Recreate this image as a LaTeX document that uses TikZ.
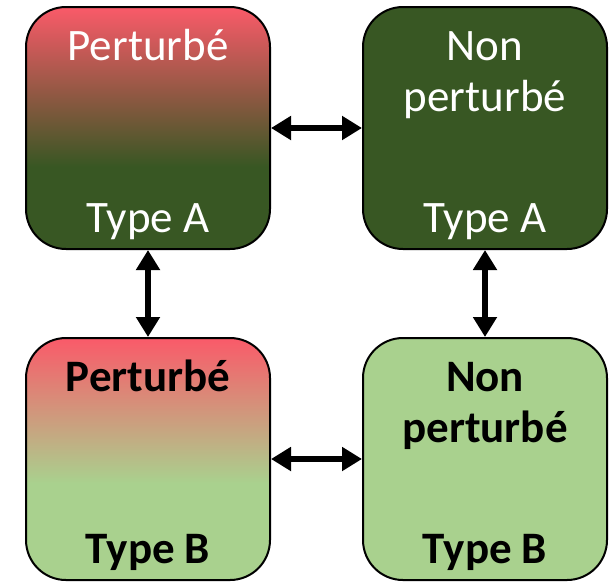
\documentclass[tikz,border=0pt]{standalone}
\usepackage{fontspec}
\setmainfont{Carlito}
\usetikzlibrary{arrows.meta,calc}
\definecolor{pred}{HTML}{FA5A69}
\definecolor{dgreen}{HTML}{385723}
\definecolor{lgreen}{HTML}{A9D18E}
% vertical fades: the node spans 25bp (bottom) to 75bp (top)
\pgfdeclareverticalshading{fadeA}{100bp}{color(0bp)=(dgreen); color(25bp)=(dgreen);
  color(42bp)=(dgreen); color(75bp)=(pred); color(100bp)=(pred)}
\pgfdeclareverticalshading{fadeB}{100bp}{color(0bp)=(lgreen); color(25bp)=(lgreen);
  color(45bp)=(lgreen); color(75bp)=(pred); color(100bp)=(pred)}
\tikzset{
  card/.style={draw=black, line width=2pt, rounded corners=40pt,
    minimum width=244pt, minimum height=242pt, inner sep=0pt},
  txt/.style={anchor=base, inner sep=0pt, font=\fontsize{45}{54}\selectfont},
  btxt/.style={txt, font=\fontsize{45}{54}\selectfont\bfseries},
  dbl/.style={line width=6pt,
    {Triangle[length=20pt,width=23pt]}-{Triangle[length=20pt,width=23pt]}}
}
\begin{document}
\begin{tikzpicture}[x=1pt,y=1pt]
  \useasboundingbox (0,0) rectangle (610,-582);

  % the four states
  \node[card, shading=fadeA] (pa) at (148,-128) {};
  \node[card, fill=dgreen] (na) at (485,-128) {};
  \node[card, shading=fadeB] (pb) at (148,-459) {};
  \node[card, fill=lgreen] (nb) at (485,-459) {};

  % labels, type A in white, type B in bold black
  \node[txt, text=white] (pa1) at ($(pa.center)+(0,68)$) {Perturbé};
  \node[txt, text=white] (pa2) at ($(pa.center)+(0,-104)$) {Type A};
  \node[txt, text=white] (na1) at ($(na.center)+(0,68)$) {Non};
  \node[txt, text=white] (na2) at ($(na.center)+(0,17)$) {perturbé};
  \node[txt, text=white] (na3) at ($(na.center)+(0,-104)$) {Type A};
  \node[btxt] (pb1) at ($(pb.center)+(0,68)$) {Perturbé};
  \node[btxt] (pb2) at ($(pb.center)+(0,-104)$) {Type B};
  \node[btxt] (nb1) at ($(nb.center)+(0,68)$) {Non};
  \node[btxt] (nb2) at ($(nb.center)+(0,17)$) {perturbé};
  \node[btxt] (nb3) at ($(nb.center)+(0,-104)$) {Type B};

  % transitions
  \draw[dbl] (pa) -- (na);
  \draw[dbl] (pb) -- (nb);
  \draw[dbl] (pa) -- (pb);
  \draw[dbl] (na) -- (nb);
\end{tikzpicture}
\end{document}
